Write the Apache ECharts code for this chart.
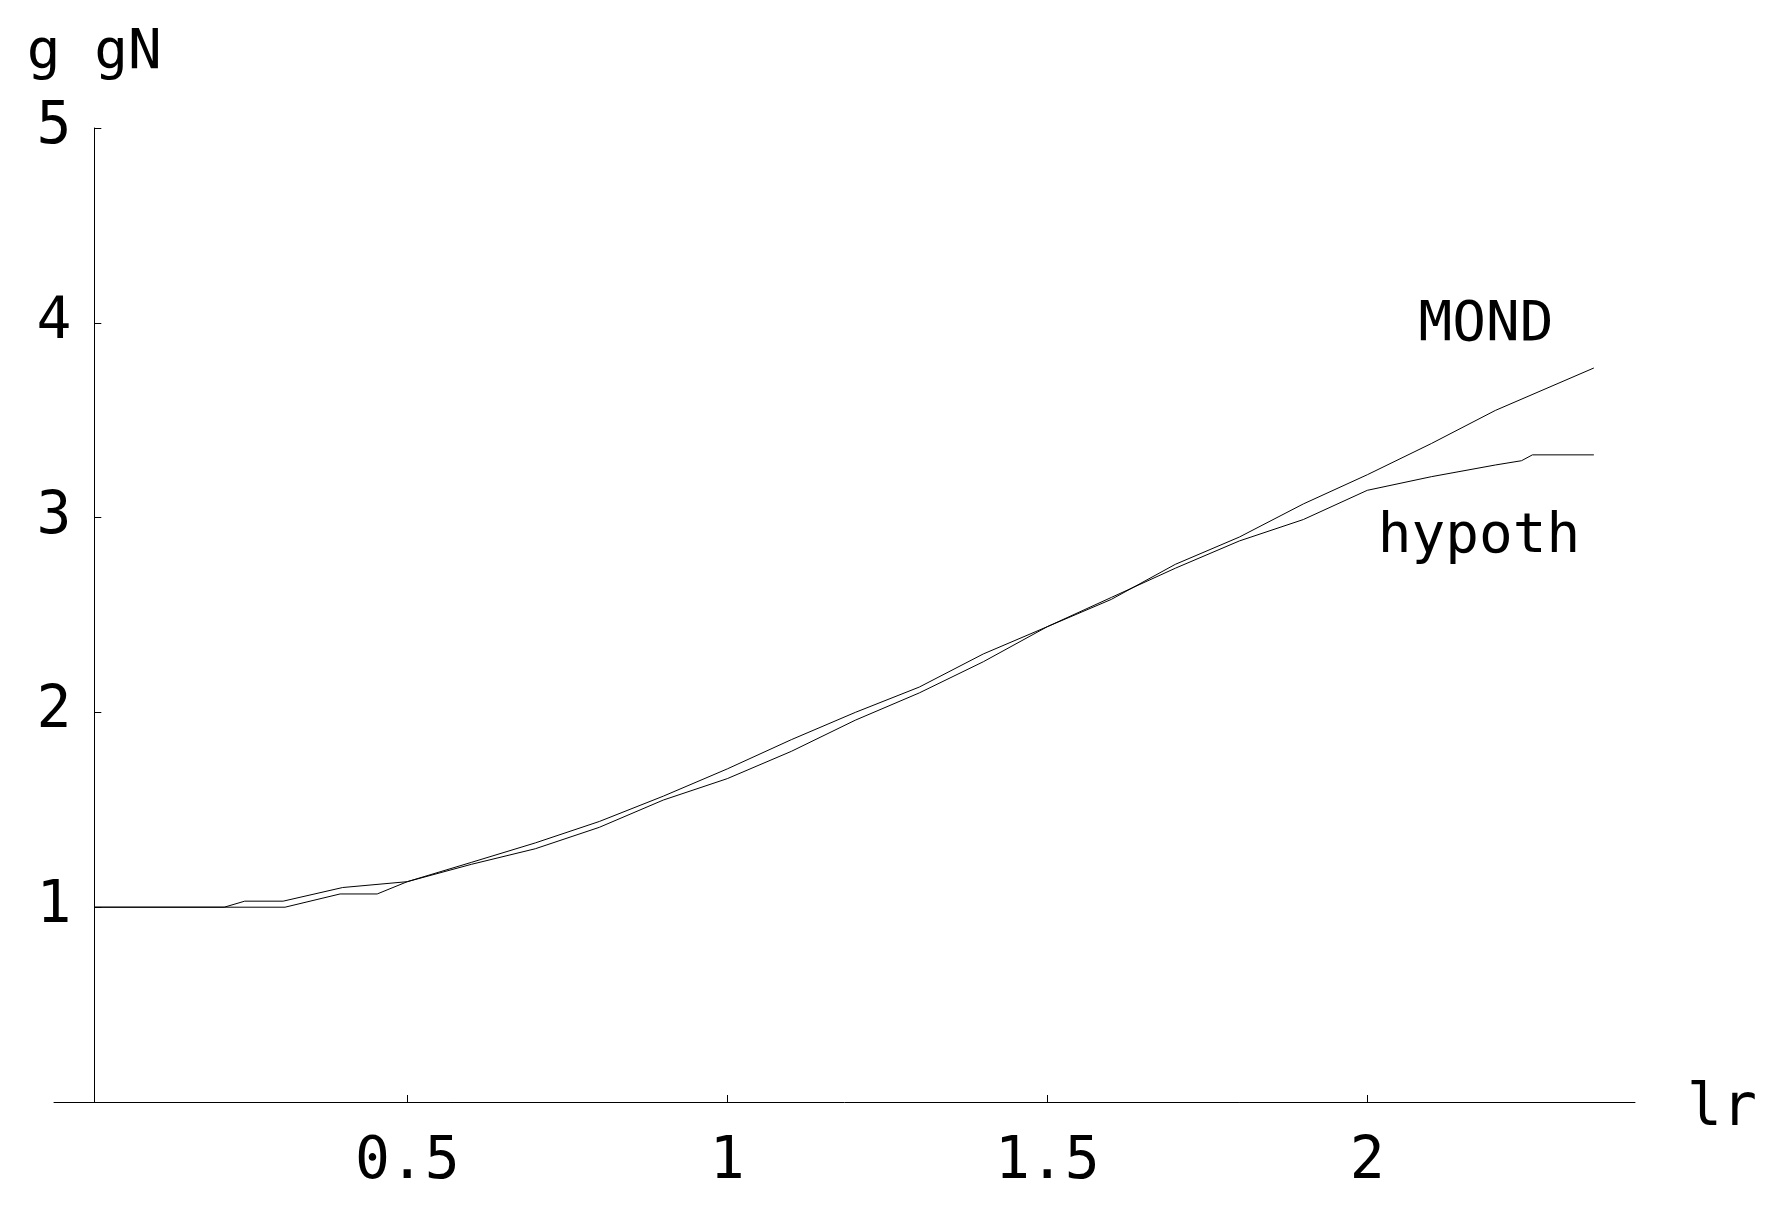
<!DOCTYPE html>
<html>
<head>
<meta charset="utf-8">
<title>g / gN vs lr</title>
<script src="https://cdn.jsdelivr.net/npm/echarts@6/dist/echarts.min.js"></script>
<style>
  html, body { margin: 0; padding: 0; background: #fff; }
  #chart { width: 1784px; height: 1220px; }
</style>
</head>
<body>
<div id="chart"></div>
<script>
// curve samples (x = lr, y = g/gN)
const mondX = [0.011, 0.214, 0.246, 0.306, 0.399, 0.5, 0.6, 0.7, 0.8, 0.9, 1.0, 1.1, 1.2, 1.3, 1.4, 1.5, 1.6, 1.7, 1.8, 1.9, 2.0, 2.1, 2.2, 2.354]
const mondY = [1, 1, 1.031, 1.031, 1.101, 1.131, 1.23, 1.33, 1.44, 1.57, 1.71, 1.86, 2.0, 2.13, 2.30, 2.44, 2.58, 2.76, 2.90, 3.07, 3.22, 3.38, 3.55, 3.768]
const hypX = [0.011, 0.309, 0.395, 0.453, 0.5, 0.6, 0.7, 0.8, 0.9, 1.0, 1.1, 1.2, 1.3, 1.4, 1.5, 1.6, 1.7, 1.8, 1.9, 2.0, 2.1, 2.2, 2.241, 2.258, 2.354]
const hypY = [1, 1, 1.068, 1.068, 1.131, 1.22, 1.30, 1.41, 1.55, 1.66, 1.80, 1.96, 2.10, 2.26, 2.44, 2.59, 2.74, 2.88, 2.99, 3.14, 3.21, 3.27, 3.292, 3.322, 3.322]
const xTicks = [0.5, 1, 1.5, 2]
const yTicks = [1, 2, 3, 4, 5]

const FONT = "DejaVu Sans Mono"
const pairs = (xs, ys) => xs.map((x, i) => [x, ys[i]])

const chart = echarts.init(document.getElementById("chart"))

const option = {
  animation: false,
  backgroundColor: "#fff",
  grid: {
    left: 54,
    right: 149,
    top: 128,
    bottom: 118,
    outerBoundsMode: "none",
  },
  xAxis: {
    type: "value",
    min: -0.052,
    max: 2.4183,
    axisLine: { onZero: true, lineStyle: { color: "#000", width: 1 } },
    axisTick: { inside: true, length: 7, customValues: xTicks, lineStyle: { color: "#000" } },
    axisLabel: { customValues: xTicks, margin: 32, fontFamily: FONT, fontSize: 58, color: "#000" },
    splitLine: { show: false },
  },
  yAxis: {
    type: "value",
    min: 0,
    max: 5,
    offset: -40.3,
    name: "g gN",
    nameLocation: "end",
    nameGap: 47,
    nameTextStyle: { fontFamily: FONT, fontSize: 56, color: "#000", align: "center" },
    axisLine: { onZero: false, lineStyle: { color: "#000", width: 1 } },
    axisTick: { inside: true, length: 7, customValues: yTicks, lineStyle: { color: "#000" } },
    axisLabel: { customValues: yTicks, margin: 23, fontFamily: FONT, fontSize: 58, color: "#000" },
    splitLine: { show: false },
  },
  graphic: [
    { type: "text", x: 1687, y: 1110, style: { text: "lr", font: "58px 'DejaVu Sans Mono'", fill: "#000", textAlign: "left", textVerticalAlign: "middle" } },
    { type: "text", x: 1486, y: 325, style: { text: "MOND", font: "56px 'DejaVu Sans Mono'", fill: "#000", textAlign: "center", textVerticalAlign: "middle" } },
    { type: "text", x: 1479, y: 537, style: { text: "hypoth", font: "56px 'DejaVu Sans Mono'", fill: "#000", textAlign: "center", textVerticalAlign: "middle" } },
  ],
  series: [
    {
      name: "MOND",
      type: "line",
      data: pairs(mondX, mondY),
      showSymbol: false,
      lineStyle: { color: "#000", width: 1 },
    },
    {
      name: "hypoth",
      type: "line",
      data: pairs(hypX, hypY),
      showSymbol: false,
      lineStyle: { color: "#000", width: 1 },
    },
  ],
}

chart.setOption(option)
window.addEventListener("resize", () => chart.resize())
</script>
</body>
</html>
